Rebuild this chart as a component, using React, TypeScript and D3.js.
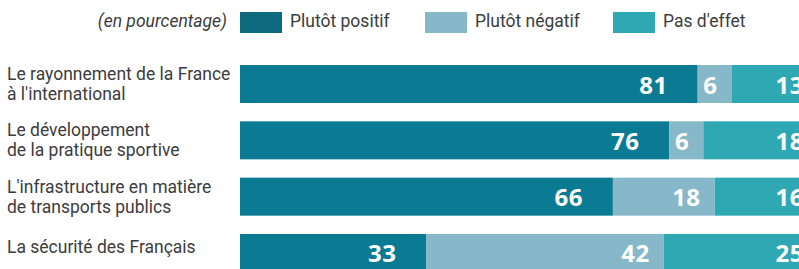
import * as React from "react";
import * as d3 from "d3";

// categories (row labels, one string per line)
const categories: string[][] = [
  ["Le rayonnement de la France", "à l'international"],
  ["Le développement", "de la pratique sportive"],
  ["L'infrastructure en matière", "de transports publics"],
  ["La sécurité des Français"],
];

const seriesNames = ["Plutôt positif", "Plutôt négatif", "Pas d'effet"];
const positif = [81, 76, 66, 33];
const negatif = [6, 6, 18, 42];
const sansEffet = [13, 18, 16, 25];

const colors = ["#0b7b94", "#86b8c9", "#2ea9b4"];
const legendColors = ["#0e6a7e", "#86b8c9", "#2ea9b4"];
const labelPad = [30, 14, 1];

const W = 799;
const H = 269;

export default function App() {
  const keys = ["p", "n", "e"];
  const rows = categories.map((c, i) => ({
    id: String(i),
    p: positif[i],
    n: negatif[i],
    e: sansEffet[i],
  }));

  const stacked = d3.stack<any>().keys(keys)(rows);

  const x = d3.scaleLinear().domain([0, 100]).range([240, 805]);
  const y = d3
    .scaleBand()
    .domain(rows.map((r) => r.id))
    .range([65, 272])
    .paddingInner(0.325)
    .paddingOuter(0);

  const legendX = [240, 425, 613];

  return (
    <svg
      width={W}
      height={H}
      style={{ position: "absolute", left: 0, top: 0, display: "block", background: "#fff" }}
    >
      {/* legend */}
      <g fontFamily="Roboto" fontSize={17.5} fill="#3c3c3c">
        <text x={227} y={27} textAnchor="end" fontStyle="italic">
          (en pourcentage)
        </text>
        {seriesNames.map((name, i) => (
          <g key={name} transform={`translate(${legendX[i]},0)`}>
            <rect x={0} y={12} width={42} height={21} fill={legendColors[i]} />
            <text x={50} y={27}>
              {name}
            </text>
          </g>
        ))}
      </g>

      {/* row labels */}
      <g fontFamily="Roboto" fontSize={17.5} fill="#3c3c3c">
        {categories.map((lines, i) => {
          const top = y(String(i)) as number;
          const first = lines.length > 1 ? top + 15 : top + 19;
          return (
            <text key={i} x={7}>
              {lines.map((l, j) => (
                <tspan key={j} x={7} y={first + j * 20}>
                  {l}
                </tspan>
              ))}
            </text>
          );
        })}
      </g>

      {/* bars */}
      {stacked.map((s, si) => (
        <g key={s.key} fill={colors[si]}>
          {s.map((d, i) => (
            <rect
              key={i}
              x={x(d[0])}
              y={y(String(i))}
              width={x(d[1]) - x(d[0])}
              height={y.bandwidth()}
            />
          ))}
        </g>
      ))}

      {/* value labels */}
      <g fontFamily="Open Sans" fontWeight="bold" fontSize={24} fill="#fff" textAnchor="end">
        {stacked.map((s, si) =>
          s.map((d, i) => (
            <text
              key={s.key + i}
              x={x(d[1]) - labelPad[si]}
              y={(y(String(i)) as number) + y.bandwidth() / 2 + 9.5}
              letterSpacing={0.5}
            >
              {d[1] - d[0]}
            </text>
          ))
        )}
      </g>
    </svg>
  );
}
